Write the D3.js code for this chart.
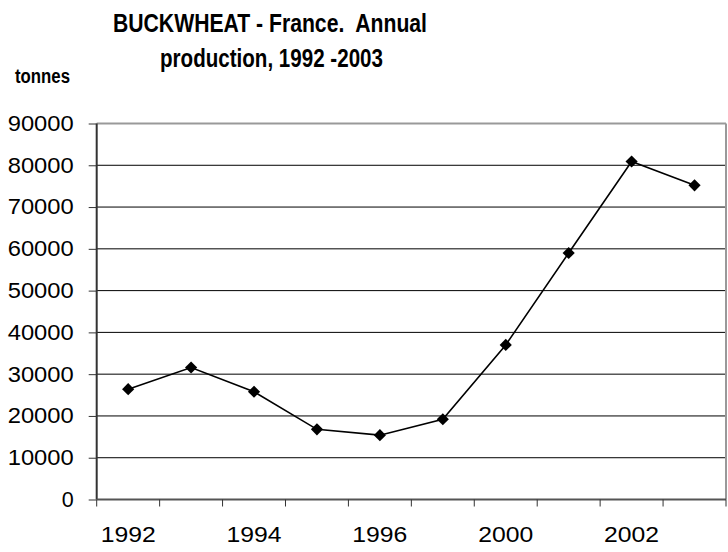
<!DOCTYPE html>
<html>
<head>
<meta charset="utf-8">
<script src="https://cdn.jsdelivr.net/npm/d3@7"></script>
<style>
  body { margin: 0; background: #fff; }
  svg { font-family: "Liberation Sans", Arial, sans-serif; }
</style>
</head>
<body>
<div id="chart"></div>
<script>
// data
const years = ["1992", "1993", "1994", "1995", "1996", "1999", "2000", "2001", "2002", "2003"];
const production = [26400, 31600, 25800, 16800, 15400, 19200, 37000, 59000, 80900, 75200];
const yTicks = [0, 10000, 20000, 30000, 40000, 50000, 60000, 70000, 80000, 90000];
const shownYears = ["1992", "1994", "1996", "2000", "2002"];

const svgWidth = 728, svgHeight = 552;
const margin = { top: 123.5, right: 2, bottom: 52.5, left: 96.7 };
const width = svgWidth - margin.left - margin.right;
const height = svgHeight - margin.top - margin.bottom;

const svg = d3.select("#chart").append("svg")
    .attr("width", svgWidth)
    .attr("height", svgHeight);

// title (the original is a bit condensed, so squeeze it to the measured width)
const title = svg.append("text")
    .attr("text-anchor", "middle")
    .attr("font-weight", "bold")
    .attr("font-size", 26)
    .style("white-space", "pre");
title.append("tspan").attr("x", 270).attr("y", 32)
    .attr("textLength", 314).attr("lengthAdjust", "spacingAndGlyphs")
    .text("BUCKWHEAT - France.  Annual");
title.append("tspan").attr("x", 271.5).attr("y", 67)
    .attr("textLength", 223).attr("lengthAdjust", "spacingAndGlyphs")
    .text("production, 1992 -2003");

svg.append("text")
    .attr("x", 15).attr("y", 82.5)
    .attr("font-weight", "bold")
    .attr("font-size", 19.5)
    .attr("textLength", 55).attr("lengthAdjust", "spacingAndGlyphs")
    .text("tonnes");

const g = svg.append("g")
    .attr("transform", `translate(${margin.left},${margin.top})`);

const x = d3.scaleBand().domain(years).range([0, width]).padding(0);
const y = d3.scaleLinear().domain([0, 90000]).range([height, 0]);

// gridlines
g.selectAll(".grid")
    .data(yTicks.filter(v => v > 0 && v < 90000))
    .enter().append("line")
    .attr("class", "grid")
    .attr("x1", 0).attr("x2", width)
    .attr("y1", d => y(d)).attr("y2", d => y(d))
    .attr("stroke", "#000").attr("stroke-width", 1);

// top and right border
g.append("line").attr("x1", 0).attr("x2", width).attr("y1", y(90000)).attr("y2", y(90000))
    .attr("stroke", "#999").attr("stroke-width", 2);
g.append("line").attr("x1", width).attr("x2", width).attr("y1", 0).attr("y2", height)
    .attr("stroke", "#999").attr("stroke-width", 2);

// y axis
const yAxis = g.append("g")
    .call(d3.axisLeft(y).tickValues(yTicks).tickSize(8).tickPadding(15).tickFormat(d3.format("d")));
yAxis.select(".domain").attr("stroke", "#333").attr("stroke-width", 2).attr("d", `M0,0V${height}`);
yAxis.selectAll(".tick line").attr("stroke", "#333");
yAxis.selectAll("text").attr("font-size", 21.5).attr("fill", "#000")
    .attr("textLength", 66).attr("lengthAdjust", "spacingAndGlyphs")
    .each(function(d) { if (d === 0) d3.select(this).attr("textLength", null); });

// x axis: ticks on band edges, labels every other category
const edges = d3.range(years.length + 1).map(i => i * x.bandwidth());
const xAxis = g.append("g").attr("transform", `translate(0,${height})`);
xAxis.append("line").attr("x1", 0).attr("x2", width)
    .attr("stroke", "#555").attr("stroke-width", 2);
xAxis.selectAll(".xtick").data(edges).enter().append("line")
    .attr("x1", d => d).attr("x2", d => d)
    .attr("y1", 0).attr("y2", 7)
    .attr("stroke", "#333");
xAxis.selectAll(".xlabel").data(shownYears).enter().append("text")
    .attr("x", d => x(d) + x.bandwidth() / 2)
    .attr("y", 42)
    .attr("text-anchor", "middle")
    .attr("font-size", 22.5)
    .attr("textLength", 55).attr("lengthAdjust", "spacingAndGlyphs")
    .text(d => d);

// line
const line = d3.line()
    .x((d, i) => x(years[i]) + x.bandwidth() / 2)
    .y(d => y(d));
g.append("path")
    .datum(production)
    .attr("fill", "none")
    .attr("stroke", "#000")
    .attr("stroke-width", 1.6)
    .attr("d", line);

// diamond markers
g.selectAll(".marker")
    .data(production)
    .enter().append("path")
    .attr("class", "marker")
    .attr("d", d3.symbol(d3.symbolSquare, 74))
    .attr("transform", (d, i) => `translate(${x(years[i]) + x.bandwidth() / 2},${y(d)}) rotate(45)`)
    .attr("fill", "#000");
</script>
</body>
</html>
